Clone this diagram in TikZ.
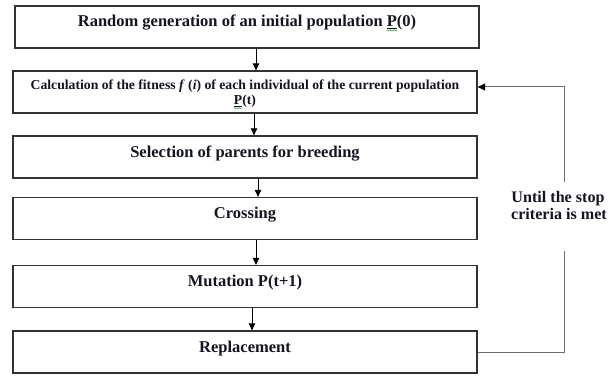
\documentclass[tikz,border=0pt]{standalone}
\usepackage{fontspec}
\setmainfont{Liberation Serif}
\usetikzlibrary{arrows.meta,decorations.pathmorphing}
\definecolor{boxcol}{HTML}{333333}
\definecolor{txtcol}{HTML}{151520}
\definecolor{fbcol}{HTML}{6E6E6E}
\definecolor{spellcol}{HTML}{3FA34D}
\begin{document}
\begin{tikzpicture}[x=1pt,y=-1pt,
  box/.style={draw=boxcol,line width=1.3pt,minimum width=464pt,minimum height=42pt,inner sep=0pt},
  lbl/.style={font=\bfseries\fontsize{16.5}{18}\selectfont,inner sep=0pt,text=txtcol,anchor=base},
  lblsmall/.style={lbl,font=\bfseries\fontsize{13.7}{15}\selectfont},
  arr/.style={draw=black,line width=0.9pt,-{Triangle[width=6.5pt,length=7pt]}},
  fb/.style={draw=fbcol,line width=1pt},
  squig/.style={draw=spellcol,line width=0.5pt,decorate,decoration={snake,amplitude=0.6pt,segment length=2.4pt}},
  uline/.style={draw=txtcol,line width=0.6pt}]
\useasboundingbox[fill=white] (0,0) rectangle (615,385);

% boxes
\node[box] (b1) at (247,27) {};
\node[box] (b2) at (245,92) {};
\node[box] (b3) at (245,157) {};
\node[box] (b4) at (245,218.5) {};
\node[box] (b5) at (245,286.5) {};
\node[box] (b6) at (245,352) {};

% labels
\node[lbl] (t1) at (b1.center) {Random generation of an initial population P(0)};
\node[lblsmall] (t2a) at ([yshift=2pt]b2.center) {Calculation of the fitness \textit{f} (\textit{i}) of each individual of the current population};
\node[lblsmall] (t2b) at ([yshift=-13pt]b2.center) {P(t)};
\node[lbl] (t3) at (b3.center) {Selection of parents for breeding};
\node[lbl] (t4) at (b4.center) {Crossing};
\node[lbl] (t5) at (b5.center) {Mutation P(t+1)};
\node[lbl] (t6) at (b6.center) {Replacement};

% spell-check marks under P
\draw[uline] ([xshift=-29.5pt,yshift=-1.3pt]t1.base east) -- ([xshift=-19.4pt,yshift=-1.3pt]t1.base east);
\path[squig] ([xshift=-29.5pt,yshift=-3.4pt]t1.base east) -- ([xshift=-19.4pt,yshift=-3.4pt]t1.base east);
\draw[uline] ([yshift=-1.2pt]t2b.base west) -- ([xshift=8.4pt,yshift=-1.2pt]t2b.base west);
\path[squig] ([yshift=-3.2pt]t2b.base west) -- ([xshift=8.4pt,yshift=-3.2pt]t2b.base west);

% flow arrows
\draw[arr] ([xshift=9pt]b1.south) -- ([xshift=11pt]b2.north);
\draw[arr] ([xshift=9pt]b2.south) -- ([xshift=9pt]b3.north);
\draw[arr] ([xshift=13pt]b3.south) -- ([xshift=13pt]b4.north);
\draw[arr] ([xshift=11pt]b4.south) -- ([xshift=11pt]b5.north);
\draw[arr] ([xshift=7pt]b5.south) -- ([xshift=7pt]b6.north);

% feedback loop
\coordinate (gb) at (564,251);
\coordinate (gt) at (564,182);
\draw[fb] (b6.east) -| (gb);
\draw[fb,-{Triangle[width=7pt,length=7.5pt,color=black]}] (gt) |- ([yshift=5pt]b2.east);
\node[lbl,font=\bfseries\fontsize{16.1}{17}\selectfont] (u1) at (558,202) {Until the stop};
\node[lbl,font=\bfseries\fontsize{16.1}{17}\selectfont] (u2) at (559,219) {criteria is met};
\end{tikzpicture}
\end{document}
